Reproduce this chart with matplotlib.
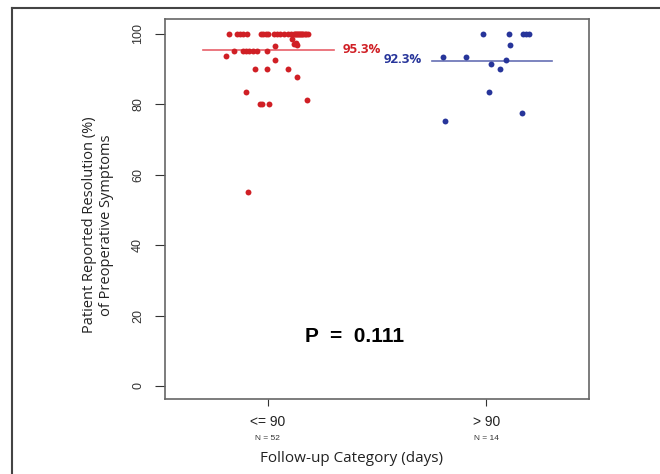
import numpy as np
import matplotlib.pyplot as plt
from matplotlib.lines import Line2D
import matplotlib.transforms as mtransforms

# data
categories = ["<= 90", "> 90"]
counts = ["N = 52", "N = 14"]
means = [95.3, 92.3]

red_y = [100] * 28 + [98.5, 97.5, 97.0, 96.7, 96.4,
                      95, 95, 95, 95, 95, 95, 95,
                      93.8, 92.6, 90, 90, 90, 87.6, 83.5,
                      80, 80, 80, 81.2, 55]
red_x = [1.0 + (p - 268) / 219 for p in
         [229, 237, 240, 243, 247, 261, 263, 266, 268, 274, 277, 280, 284,
          288, 291, 294, 296, 298, 300, 302, 305, 308, 295, 297, 299, 301, 303, 306,
          292.7, 296, 294, 297, 275.7,
          234, 243, 246, 249, 253, 257, 267,
          226, 275.7, 255.7, 267, 288.3, 297.7, 246,
          260, 262.7, 269.3, 307.3, 248]]

blue_y = [100, 100, 100, 100, 100, 96.7, 93.3, 93.3, 92.6, 91.3, 90.1, 83.5, 77.5, 75.1]
blue_x = [2.0 + (p - 487) / 219 for p in
          [483.3, 509.3, 524, 530, 527, 511, 443.7, 466.7, 506.7, 491.7, 500.7,
           490, 522.7, 446]]

red = "#d01f25"
blue = "#27359a"

fig = plt.figure(figsize=(6.6, 4.74), dpi=100)
ax = fig.add_axes([165 / 660, 75 / 474, 424 / 660, 380 / 474])

ax.scatter(red_x, red_y, s=18, color=red, zorder=3, linewidths=0)
ax.scatter(blue_x, blue_y, s=18, color=blue, zorder=3, linewidths=0)

ax.plot([1 + (203 - 268) / 219, 1 + (334 - 268) / 219], [95.45, 95.45],
        color="#e8606a", lw=1.2, zorder=2)
ax.plot([2 + (433 - 487) / 219, 2 + (553 - 487) / 219], [92.4, 92.4],
        color="#6670b4", lw=1.2, zorder=2)
ax.text(1 + (343 - 268) / 219, 95.6, f"{means[0]}%", color=red,
        fontsize=9.5, fontweight="bold", va="center", ha="left", family="Open Sans")
ax.text(2 + (422 - 487) / 219, 92.6, f"{means[1]}%", color=blue,
        fontsize=9.5, fontweight="bold", va="center", ha="right", family="Open Sans")

ax.text(1 + (355 - 268) / 219, 14, "P  =  0.111", fontsize=15, fontweight="bold",
        ha="center", va="center", family="Liberation Sans")

ax.set_xlim(0.53, 2.47)
ax.set_ylim(-3.7, 104.2)
ax.set_yticks([0, 20, 40, 60, 80, 100])
ax.set_yticklabels(["0", "20", "40", "60", "80", "100"], rotation=90,
                   va="center", family="Liberation Sans", fontsize=9)
ax.set_xticks([1, 2])
ax.set_xticklabels([])
ax.tick_params(axis="y", length=7, width=0.8, colors="#333333", pad=8)
ax.tick_params(axis="x", length=5, width=0.8, colors="#333333")
for s in ax.spines.values():
    s.set_color("#666666")
    s.set_linewidth(1.2)

trans = mtransforms.blended_transform_factory(ax.transData, fig.transFigure)
for i, (c, n) in enumerate(zip(categories, counts)):
    ax.text(i + 1, 1 - 422 / 474, c, transform=trans, ha="center", va="center",
            fontsize=10, family="Liberation Sans", color="#222222")
    ax.text(i + 1, 1 - 438 / 474, n, transform=trans, ha="center", va="center",
            fontsize=6, family="Liberation Sans", color="#333333")

fig.text(351 / 660, 1 - 459 / 474, "Follow-up Category (days)", ha="center", va="center",
         fontsize=11, family="Open Sans", color="#222222")
fig.text(98 / 660, 1 - 225 / 474, "Patient Reported Resolution (%)\nof Preoperative Symptoms",
         rotation=90, ha="center", va="center", fontsize=10.5, family="Open Sans",
         color="#222222", linespacing=1.1)

# outer frame (top and left edges visible)
fig.add_artist(Line2D([12 / 660, 1], [1 - 8 / 474, 1 - 8 / 474], color="#444444", lw=1.5))
fig.add_artist(Line2D([12 / 660, 12 / 660], [0, 1 - 8 / 474], color="#444444", lw=1.5))

fig.savefig("out.png", dpi=100)
